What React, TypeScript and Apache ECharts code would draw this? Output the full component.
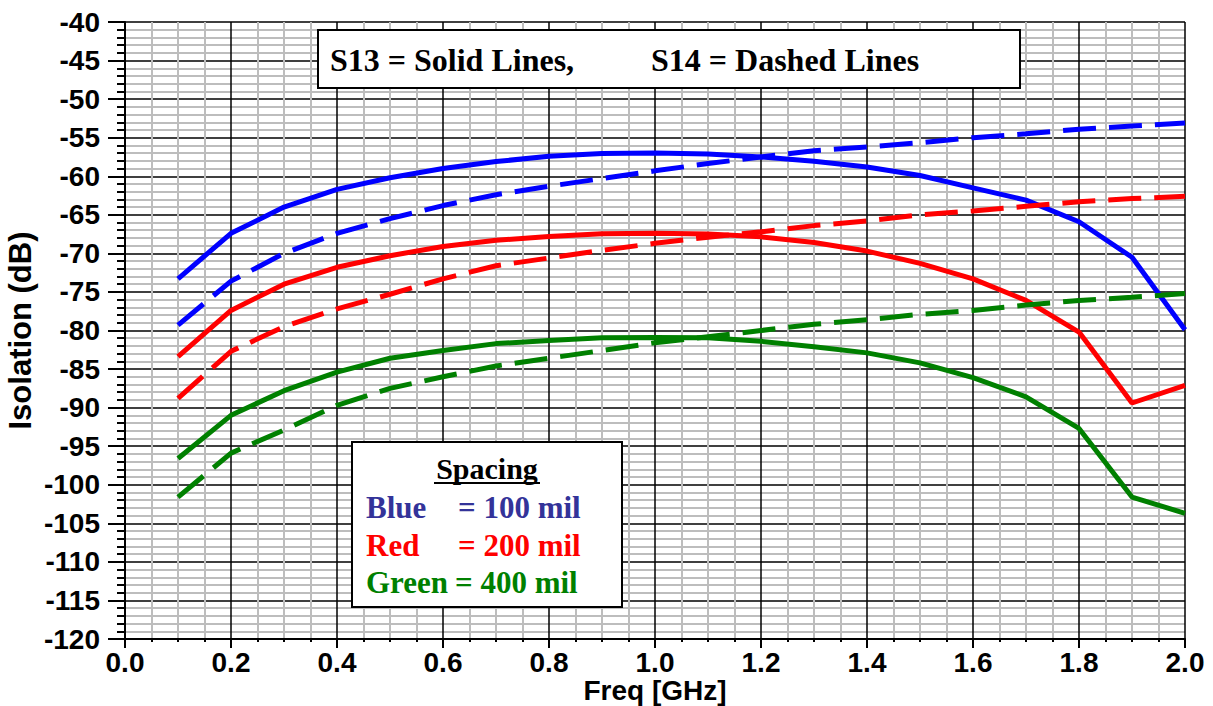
import React, { useEffect, useRef } from "react";
import * as echarts from "echarts";

const freq = [0.1, 0.2, 0.3, 0.4, 0.5, 0.6, 0.7, 0.8, 0.9, 1.0, 1.1, 1.2, 1.3, 1.4, 1.5, 1.6, 1.7, 1.8, 1.9, 2.0];

const blueS13 = [-73.3, -67.4, -64.0, -61.7, -60.2, -59.0, -58.1, -57.4, -57.05, -57.0, -57.1, -57.5, -58.05, -58.8, -59.9, -61.5, -63.1, -65.9, -70.5, -79.9];
const blueS14 = [-79.3, -73.6, -70.0, -67.4, -65.5, -63.8, -62.4, -61.3, -60.3, -59.3, -58.35, -57.5, -56.7, -56.2, -55.65, -55.0, -54.5, -53.9, -53.5, -53.1];
const redS13 = [-83.4, -77.4, -74.0, -71.8, -70.3, -69.1, -68.3, -67.8, -67.45, -67.4, -67.5, -67.85, -68.6, -69.7, -71.3, -73.3, -76.1, -80.2, -89.4, -87.1];
const redS14 = [-88.8, -82.7, -79.5, -77.2, -75.3, -73.3, -71.6, -70.6, -69.6, -68.7, -67.9, -67.2, -66.4, -65.8, -65.0, -64.5, -63.9, -63.3, -62.9, -62.6];
const greenS13 = [-96.6, -91.0, -87.8, -85.4, -83.6, -82.6, -81.7, -81.3, -80.95, -80.9, -80.95, -81.4, -82.1, -82.9, -84.2, -86.1, -88.6, -92.7, -101.6, -103.7];
const greenS14 = [-101.6, -95.9, -92.9, -89.7, -87.5, -86.0, -84.6, -83.6, -82.6, -81.6, -80.8, -80.0, -79.2, -78.6, -77.9, -77.4, -76.7, -76.1, -75.7, -75.2];

const xTitle = "Freq [GHz]";
const yTitle = "Isolation (dB)";
const noteText1 = "S13 = Solid Lines,";
const noteText2 = "S14 = Dashed Lines";
const legendTitle = "Spacing";
const legendNames = ["Blue", "Red", "Green"];
const legendValues = ["= 100 mil", "= 200 mil", "= 400 mil"];
const legendColors = ["#333399", "#ff0000", "#008000"];

const BLUE = "#0000ff";
const RED = "#ff0000";
const GREEN = "#008000";

function pairs(ys: number[]) {
  return freq.map((f, i) => [f, ys[i]]);
}

function mkSeries(name: string, ys: number[], color: string, dashed: boolean) {
  return {
    name,
    type: "line",
    data: pairs(ys),
    showSymbol: false,
    symbol: "none",
    smooth: false,
    lineStyle: { color, width: 5, type: dashed ? [33, 13] : "solid", cap: "butt" },
    z: 5,
  };
}

export default function App() {
  const ref = useRef<HTMLDivElement>(null);
  useEffect(() => {
    if (!ref.current) return;
    const chart = echarts.init(ref.current, null, { renderer: "svg" });
    const serif = '"Liberation Serif", "Times New Roman", serif';
    const sans = '"Liberation Sans", Arial, sans-serif';
    const legendRowsY = [507, 545, 582];
    const graphics: any[] = [
      {
        type: "rect",
        shape: { x: 318, y: 30, width: 702, height: 58 },
        style: { fill: "#fff", stroke: "#000", lineWidth: 2 },
        z: 100,
      },
      {
        type: "text",
        x: 330,
        y: 60,
        style: { text: noteText1, font: `bold 32px ${serif}`, fill: "#000", verticalAlign: "middle", align: "left" },
        z: 101,
      },
      {
        type: "text",
        x: 651,
        y: 60,
        style: { text: noteText2, font: `bold 32px ${serif}`, fill: "#000", verticalAlign: "middle", align: "left" },
        z: 101,
      },
      {
        type: "rect",
        shape: { x: 352, y: 442, width: 270, height: 165 },
        style: { fill: "#fff", stroke: "#000", lineWidth: 2 },
        z: 100,
      },
      {
        type: "text",
        x: 487,
        y: 468,
        style: { text: legendTitle, font: `bold 30px ${serif}`, fill: "#000", verticalAlign: "middle", align: "center" },
        z: 101,
      },
      {
        type: "line",
        shape: { x1: 434, y1: 483, x2: 540, y2: 483 },
        style: { stroke: "#000", lineWidth: 2 },
        z: 101,
      },
    ];
    legendNames.forEach((n, i) => {
      graphics.push({
        type: "text",
        x: 366,
        y: legendRowsY[i],
        style: { text: n, font: `bold 31px ${serif}`, fill: legendColors[i], verticalAlign: "middle", align: "left" },
        z: 101,
      });
      graphics.push({
        type: "text",
        x: i === 2 ? 455 : 458,
        y: legendRowsY[i],
        style: { text: legendValues[i], font: `bold 31px ${serif}`, fill: legendColors[i], verticalAlign: "middle", align: "left" },
        z: 101,
      });
    });

    chart.setOption({
      animation: false,
      backgroundColor: "#fff",
      grid: { left: 125, top: 22, right: 28, bottom: 67, containLabel: false, outerBoundsMode: "none" },
      xAxis: {
        type: "value",
        min: 0,
        max: 2,
        interval: 0.2,
        name: xTitle,
        nameLocation: "middle",
        nameGap: 39,
        nameMoveOverlap: false,
        nameTextStyle: { fontFamily: sans, fontWeight: "bold", fontSize: 28, lineHeight: 24, color: "#000" },
        axisLine: { show: true, onZero: false, lineStyle: { color: "#000", width: 2 } },
        axisTick: { show: true, length: 9, lineStyle: { color: "#000", width: 2 } },
        minorTick: { show: true, splitNumber: 4, length: 3, lineStyle: { color: "#000", width: 2 } },
        axisLabel: {
          fontFamily: sans,
          fontWeight: "bold",
          fontSize: 28,
          lineHeight: 24,
          color: "#000",
          margin: 11,
          formatter: (v: number) => v.toFixed(1),
        },
        splitLine: { show: true, lineStyle: { color: "#000", width: 1.5 } },
        minorSplitLine: { show: true, lineStyle: { color: "#bdbdbd", width: 2 } },
      },
      yAxis: {
        type: "value",
        min: -120,
        max: -40,
        interval: 5,
        name: yTitle,
        nameLocation: "middle",
        nameGap: 89,
        nameMoveOverlap: false,
        nameTextStyle: { fontFamily: sans, fontWeight: "bold", fontSize: 31, color: "#000" },
        axisLine: { show: true, onZero: false, lineStyle: { color: "#000", width: 2 } },
        axisTick: { show: true, length: 17, lineStyle: { color: "#000", width: 2 } },
        minorTick: { show: true, splitNumber: 5, length: 8, lineStyle: { color: "#000", width: 2 } },
        axisLabel: { fontFamily: sans, fontWeight: "bold", fontSize: 28, color: "#000", margin: 25 },
        splitLine: { show: true, lineStyle: { color: "#000", width: 1.5 } },
        minorSplitLine: { show: true, lineStyle: { color: "#bdbdbd", width: 2 } },
      },
      series: [
        mkSeries("Blue S13", blueS13, BLUE, false),
        mkSeries("Blue S14", blueS14, BLUE, true),
        mkSeries("Red S13", redS13, RED, false),
        mkSeries("Red S14", redS14, RED, true),
        mkSeries("Green S13", greenS13, GREEN, false),
        mkSeries("Green S14", greenS14, GREEN, true),
      ],
      graphic: { elements: graphics },
    });
    return () => chart.dispose();
  }, []);
  return (
    <div
      ref={ref}
      style={{ position: "fixed", left: 0, top: 0, width: 1213, height: 706, background: "#fff" }}
    />
  );
}
